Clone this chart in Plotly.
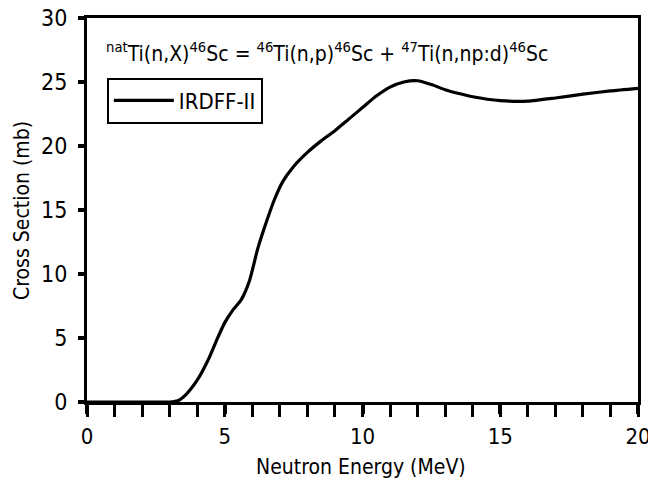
import plotly.graph_objects as go

energy_mev = [0, 1, 2, 3, 3.3, 3.6, 4.0, 4.4, 4.7, 5.0, 5.3, 5.6, 5.9, 6.2, 6.5, 6.8, 7.1, 7.5,
              8.0, 8.5, 9.0, 9.5, 10.0, 10.5, 11.0, 11.5, 12.0, 12.5, 13.0, 13.5, 14.0,
              15.0, 16.0, 17.0, 18.0, 19.0, 20.0]
cross_section_mb = [0, 0, 0, 0, 0.1, 0.6, 1.7, 3.3, 4.8, 6.2, 7.2, 8.0, 9.5, 12.0, 14.0, 15.8, 17.2, 18.4,
                    19.5, 20.4, 21.2, 22.1, 23.0, 23.9, 24.6, 25.0, 25.1, 24.8, 24.4, 24.1, 23.85,
                    23.55, 23.5, 23.75, 24.05, 24.3, 24.5]
series_name = "IRDFF-II"
x_ticks = [0, 5, 10, 15, 20]
y_ticks = [0, 5, 10, 15, 20, 25, 30]

FONT = "DejaVu Sans Condensed, Liberation Sans Narrow, DejaVu Sans"

fig = go.Figure()
fig.add_trace(go.Scatter(
    x=energy_mev, y=cross_section_mb, mode="lines", name=series_name,
    line=dict(color="black", width=3.2, shape="spline", smoothing=0.6),
))

fig.update_layout(
    width=648, height=480,
    margin=dict(l=87, r=10, t=18, b=78),
    paper_bgcolor="white", plot_bgcolor="white",
    font=dict(family=FONT, size=21, color="black"),
    showlegend=True,
    legend=dict(x=0.036, y=0.845, xanchor="left", yanchor="top",
                bordercolor="black", borderwidth=2, bgcolor="white",
                itemwidth=60, tracegroupgap=0,
                font=dict(family=FONT, size=22)),
    annotations=[
        dict(text="<sup>nat</sup>Ti(n,X)<sup>46</sup>Sc = <sup>46</sup>Ti(n,p)<sup>46</sup>Sc + "
                  "<sup>47</sup>Ti(n,np:d)<sup>46</sup>Sc",
             xref="paper", yref="paper", x=0.03, y=0.912, xanchor="left", yanchor="middle",
             showarrow=False, font=dict(family=FONT, size=21, color="black")),
        dict(text="Neutron Energy (MeV)", xref="paper", yref="paper", x=0.498, y=-0.169,
             xanchor="center", yanchor="middle", showarrow=False,
             font=dict(family=FONT, size=21, color="black")),
        dict(text="Cross Section (mb)", xref="paper", yref="paper", x=-0.118, y=0.5,
             xanchor="center", yanchor="middle", textangle=-90, showarrow=False,
             font=dict(family=FONT, size=21, color="black")),
    ],
)

fig.update_xaxes(
    range=[0, 20], tickvals=x_ticks, ticks="outside", ticklen=9, tickwidth=4,
    tickcolor="black", showline=True, linecolor="black", linewidth=3, mirror=True,
    showgrid=False, zeroline=False, ticklabelstandoff=4, automargin=False,
    ticklabeloverflow="allow",
    minor=dict(dtick=1, ticks="outside", ticklen=12, tickwidth=3, tickcolor="black", showgrid=False),
    tickfont=dict(family=FONT, size=22),
)
fig.update_yaxes(
    range=[0, 30], tickvals=y_ticks, ticks="outside", ticklen=6, tickwidth=4,
    tickcolor="black", showline=True, linecolor="black", linewidth=3, mirror=True,
    showgrid=False, zeroline=False, ticklabelstandoff=6, automargin=False,
    ticklabeloverflow="allow",
    tickfont=dict(family=FONT, size=23),
)

fig.write_html("out.html", config={"displayModeBar": False},
               post_script="document.body.style.margin='0px';")
